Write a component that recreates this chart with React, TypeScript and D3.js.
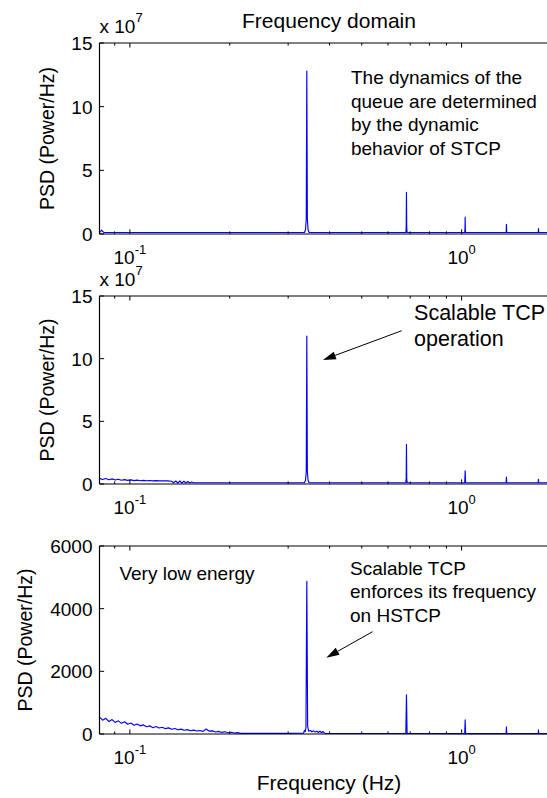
import React from "react";
import * as d3 from "d3";

// ---------- data (frequency in Hz, PSD) ----------
// Top panel, PSD in units of 1e7
const topSpectrum: [number, number][] = [
  [0.081, 0.12], [0.0816, 0.2], [0.0822, 0.3], [0.0828, 0.2], [0.0836, 0.12],
  [0.12, 0.12], [0.2, 0.12], [0.3, 0.12], [0.336, 0.12], [0.3385, 0.35],
  [0.3402, 1.2], [0.3415, 12.8], [0.3428, 1.2], [0.3445, 0.35], [0.347, 0.12],
  [0.5, 0.12], [0.679, 0.12], [0.6808, 0.5], [0.682, 3.27], [0.6832, 0.5],
  [0.685, 0.12], [0.9, 0.12], [1.022, 0.12], [1.0238, 0.4], [1.025, 1.33],
  [1.0262, 0.4], [1.028, 0.12], [1.2, 0.12], [1.362, 0.12], [1.365, 0.76],
  [1.368, 0.12], [1.5, 0.12], [1.702, 0.12], [1.705, 0.42], [1.708, 0.12],
  [1.966, 0.12],
];

// Middle panel, PSD in units of 1e7
const midSpectrum: [number, number][] = [
  [0.081, 0.45], [0.0828, 0.36], [0.0846, 0.44], [0.0865, 0.34], [0.0884, 0.41],
  [0.0903, 0.32], [0.0923, 0.38], [0.0943, 0.3], [0.0964, 0.35], [0.0985, 0.29],
  [0.1007, 0.33], [0.1029, 0.27], [0.1052, 0.31], [0.1075, 0.26], [0.1099, 0.29],
  [0.1123, 0.26], [0.1148, 0.28], [0.1173, 0.25], [0.1199, 0.27], [0.1225, 0.25],
  [0.1252, 0.26], [0.13, 0.25],
  [0.1335, 0.22], [0.1355, 0.1], [0.1375, 0.24], [0.1395, 0.08], [0.1415, 0.24],
  [0.1435, 0.08], [0.1455, 0.22], [0.1475, 0.08], [0.1495, 0.2], [0.1515, 0.08],
  [0.1535, 0.16], [0.156, 0.1], [0.3, 0.1], [0.336, 0.1], [0.3385, 0.3],
  [0.3402, 1.0], [0.3415, 11.8], [0.3428, 1.0], [0.3445, 0.3], [0.347, 0.1],
  [0.679, 0.1], [0.6808, 0.45], [0.682, 3.17], [0.6832, 0.45], [0.685, 0.1],
  [1.022, 0.1], [1.025, 1.06], [1.028, 0.1], [1.362, 0.1], [1.365, 0.56],
  [1.368, 0.1], [1.702, 0.1], [1.705, 0.38], [1.708, 0.1], [1.966, 0.1],
];

// Bottom panel, PSD in Power/Hz
const lowSpectrum: [number, number][] = [
  [0.081, 540], [0.0828, 440], [0.0846, 500], [0.0865, 400], [0.0884, 460],
  [0.0903, 370], [0.0923, 420], [0.0943, 340], [0.0964, 390], [0.0985, 310],
  [0.1007, 350], [0.1029, 280], [0.1052, 320], [0.1075, 260], [0.1099, 290],
  [0.1123, 230], [0.1148, 260], [0.1173, 200], [0.1199, 240], [0.1225, 190],
  [0.1252, 215], [0.128, 170], [0.1308, 195], [0.1337, 150], [0.1366, 175],
  [0.1396, 135], [0.1427, 155], [0.1458, 120], [0.149, 140], [0.1523, 105],
  [0.1557, 125], [0.1591, 95], [0.1626, 110], [0.1662, 85], [0.1698, 160],
  [0.1736, 90], [0.1774, 100], [0.1813, 65], [0.1853, 85], [0.1894, 50],
  [0.1935, 70], [0.1978, 40], [0.2021, 55], [0.2066, 30], [0.2111, 45],
  [0.2158, 20], [0.3, 20],
  [0.334, 30], [0.336, 120], [0.338, 80], [0.3395, 200], [0.3415, 4870],
  [0.3435, 250], [0.346, 90], [0.35, 110], [0.354, 70], [0.358, 100],
  [0.362, 60], [0.366, 90], [0.37, 50], [0.374, 90], [0.378, 40],
  [0.382, 80], [0.386, 30], [0.39, 15], [0.679, 15], [0.682, 1250],
  [0.685, 15], [1.022, 10], [1.025, 455], [1.028, 10], [1.362, 10],
  [1.365, 230], [1.368, 10], [1.702, 10], [1.705, 130], [1.708, 10],
  [1.966, 10],
];

const xDomain = [0.081, 1.966];
const xMajorTicks = [0.1, 1];
const xMajorExp = ["-1", "0"];
const xMinorTicks = [0.09, 0.2, 0.3, 0.4, 0.5, 0.6, 0.7, 0.8, 0.9];

const topYTicks = [0, 5, 10, 15];
const midYTicks = [0, 5, 10, 15];
const lowYTicks = [0, 2000, 4000, 6000];

const topNote = ["The dynamics of the", "queue are determined", "by the dynamic", "behavior of STCP"];
const midNote = ["Scalable TCP", "operation"];
const lowNote = ["Scalable TCP", "enforces its frequency", "on HSTCP"];

const FONT = "'Liberation Sans', Arial, Helvetica, sans-serif";
const BLUE = "#0000ff";

type PanelProps = {
  top: number;
  bottom: number;
  yMax: number;
  yTicks: number[];
  data: [number, number][];
  exponent: boolean;
  ylabelX: number;
  children?: (x: d3.ScaleLogarithmic<number, number>, y: d3.ScaleLinear<number, number>) => React.ReactNode;
};

const x = d3.scaleLog().domain(xDomain).range([99.5, 559]);

function Panel({ top, bottom, yMax, yTicks, data, exponent, ylabelX, children }: PanelProps) {
  const y = d3.scaleLinear().domain([0, yMax]).range([bottom, top]);
  const line = d3
    .line<[number, number]>()
    .x((d) => x(d[0]))
    .y((d) => y(d[1]));
  const [x0, x1] = x.range();
  const majLen = 4.6;
  const minLen = 2.6;
  return (
    <g>
      <path d={line(data) || ""} fill="none" stroke={BLUE} strokeWidth={1.15} strokeLinejoin="round" />
      {/* axes box */}
      <line x1={x0} x2={x1} y1={top} y2={top} stroke="#000" strokeWidth={1} />
      <line x1={x0} x2={x1} y1={bottom} y2={bottom} stroke="#000" strokeWidth={1.2} />
      <line x1={x0} x2={x0} y1={top} y2={bottom} stroke="#000" strokeWidth={1.2} />
      <line x1={x1} x2={x1} y1={top} y2={bottom} stroke="#000" strokeWidth={1} />
      {/* x ticks */}
      {xMajorTicks.map((t, i) => (
        <g key={"M" + t}>
          <line x1={x(t)} x2={x(t)} y1={bottom} y2={bottom - majLen} stroke="#000" />
          <line x1={x(t)} x2={x(t)} y1={top} y2={top + majLen} stroke="#000" />
          <text x={x(t)} y={bottom + 30} textAnchor="middle" fontSize={19} fontFamily={FONT}>
            10
            <tspan dy={-10} fontSize={13}>
              {xMajorExp[i]}
            </tspan>
          </text>
        </g>
      ))}
      {xMinorTicks
        .filter((t) => t >= xDomain[0] && t <= xDomain[1])
        .map((t) => (
          <g key={"m" + t}>
            <line x1={x(t)} x2={x(t)} y1={bottom} y2={bottom - minLen} stroke="#000" />
            <line x1={x(t)} x2={x(t)} y1={top} y2={top + minLen} stroke="#000" />
          </g>
        ))}
      {/* y ticks */}
      {yTicks.map((t) => (
        <g key={"y" + t}>
          <line x1={x0} x2={x0 + majLen} y1={y(t)} y2={y(t)} stroke="#000" />
          <text x={x0 - 7} y={y(t)} dy="0.36em" textAnchor="end" fontSize={19} fontFamily={FONT}>
            {String(t)}
          </text>
        </g>
      ))}
      {exponent && (
        <text x={x0} y={top - 10} fontSize={19} fontFamily={FONT}>
          x 10
          <tspan dy={-11} fontSize={13}>
            7
          </tspan>
        </text>
      )}
      <text
        transform={`translate(${ylabelX},${(top + bottom) / 2}) rotate(-90)`}
        textAnchor="middle"
        fontSize={19.5}
        fontFamily={FONT}
      >
        PSD (Power/Hz)
      </text>
      {children && children(x, y)}
    </g>
  );
}

function Arrow({ x1, y1, x2, y2 }: { x1: number; y1: number; x2: number; y2: number }) {
  const ang = Math.atan2(y2 - y1, x2 - x1);
  const len = 13;
  const half = 4;
  const bx = x2 - len * Math.cos(ang);
  const by = y2 - len * Math.sin(ang);
  const px = -Math.sin(ang) * half;
  const py = Math.cos(ang) * half;
  return (
    <g>
      <line x1={x1} y1={y1} x2={bx} y2={by} stroke="#000" strokeWidth={1} />
      <path d={`M${x2},${y2}L${bx + px},${by + py}L${bx - px},${by - py}Z`} fill="#000" />
    </g>
  );
}

function Lines({ lines, x0, y0, step, size }: { lines: string[]; x0: number; y0: number; step: number; size: number }) {
  return (
    <text fontSize={size} fontFamily={FONT} fill="#000">
      {lines.map((l, i) => (
        <tspan key={i} x={x0} y={y0 + i * step}>
          {l}
        </tspan>
      ))}
    </text>
  );
}

export default function App() {
  return (
    <div style={{ position: "absolute", left: 0, top: 0, width: 547, height: 798, overflow: "hidden", background: "#fff" }}>
      <svg width={547} height={798} style={{ display: "block" }}>
        <rect width={547} height={798} fill="#fff" />
        <text x={329} y={28} textAnchor="middle" fontSize={21} fontFamily={FONT}>
          Frequency domain
        </text>
        <Panel top={43} bottom={234} yMax={15} yTicks={topYTicks} data={topSpectrum} exponent={true} ylabelX={54}>
          {(xs, ys) => <Lines lines={topNote} x0={xs(0.464)} y0={84} step={23.5} size={19} />}
        </Panel>
        <Panel top={296} bottom={484} yMax={15} yTicks={midYTicks} data={midSpectrum} exponent={true} ylabelX={54}>
          {(xs, ys) => (
            <g>
              <Lines lines={midNote} x0={xs(0.719)} y0={320} step={26} size={21.5} />
              <Arrow x1={xs(0.66)} y1={ys(12.23)} x2={xs(0.382)} y2={ys(9.9)} />
            </g>
          )}
        </Panel>
        <Panel top={546} bottom={734} yMax={6000} yTicks={lowYTicks} data={lowSpectrum} exponent={false} ylabelX={32}>
          {(xs, ys) => (
            <g>
              <text x={xs(0.093)} y={580} fontSize={19} fontFamily={FONT}>
                Very low energy
              </text>
              <Lines lines={lowNote} x0={xs(0.461)} y0={575} step={23.4} size={19} />
              <Arrow x1={xs(0.539)} y1={ys(3265)} x2={xs(0.391)} y2={ys(2435)} />
            </g>
          )}
        </Panel>
        <text x={329} y={790} textAnchor="middle" fontSize={21} fontFamily={FONT}>
          Frequency (Hz)
        </text>
      </svg>
    </div>
  );
}
